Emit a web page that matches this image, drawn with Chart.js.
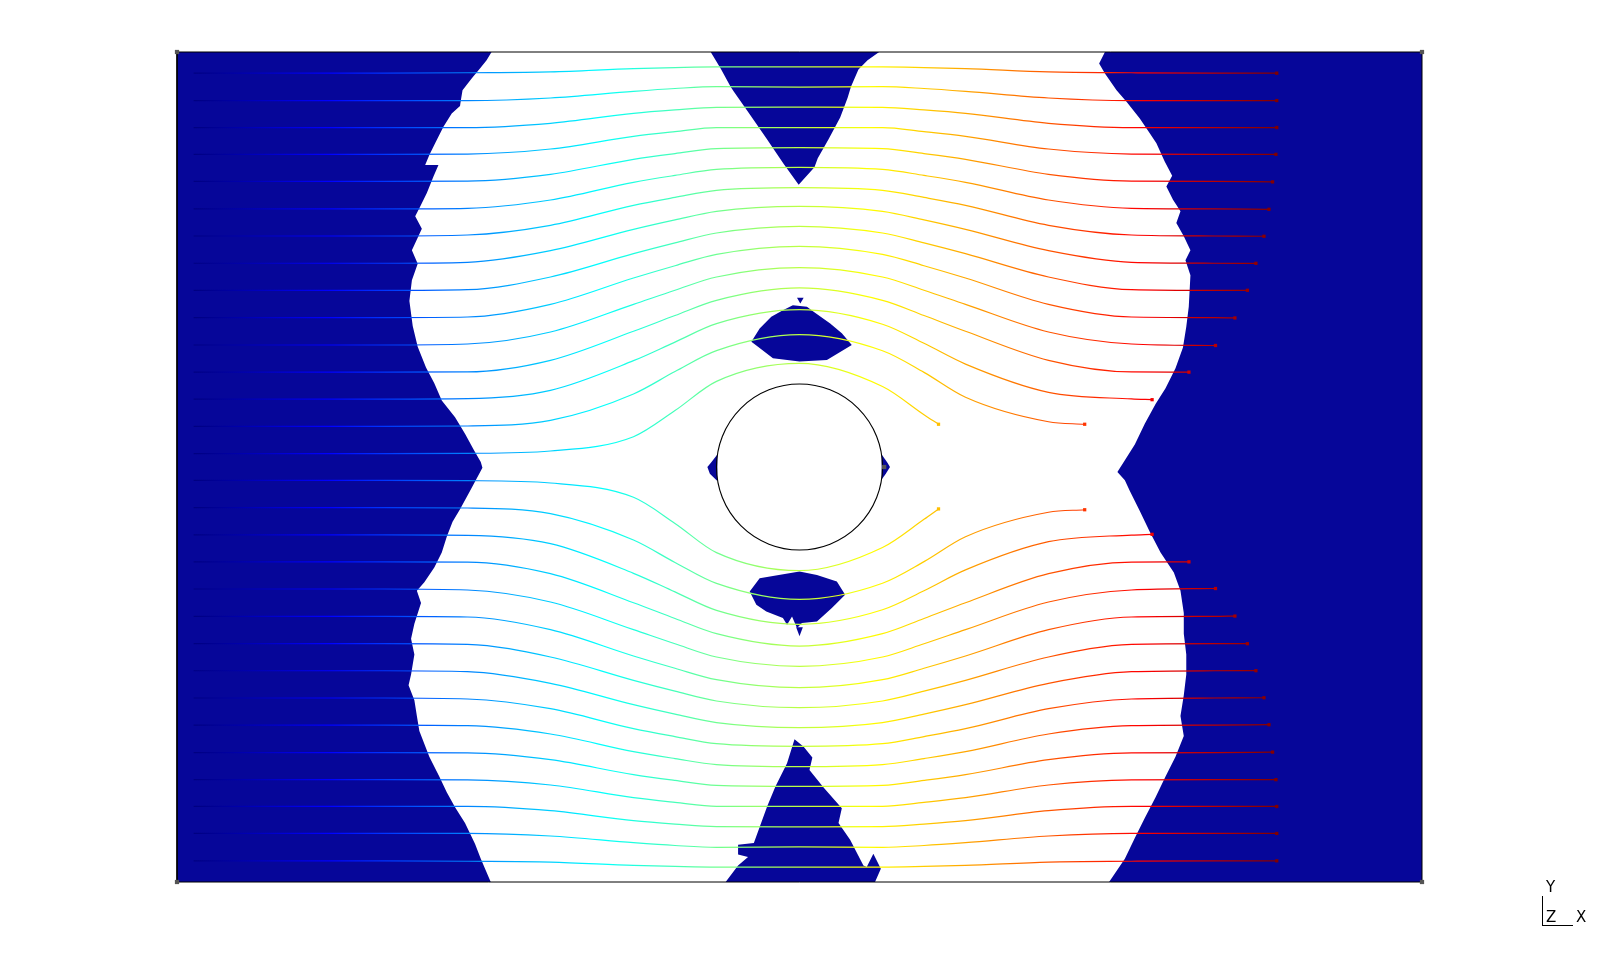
<!DOCTYPE html>
<html>
<head>
<meta charset="utf-8">
<script src="https://cdn.jsdelivr.net/npm/chart.js@4.4.1/dist/chart.umd.min.js"></script>
<style>
html,body{margin:0;padding:0;background:#fff;}
#wrap{position:relative;width:1603px;height:966px;}
.t{position:absolute;font-family:"DejaVu Sans",sans-serif;font-size:15px;line-height:15px;color:#000;}
.ln{position:absolute;background:#000;}
</style>
</head>
<body>
<div id="wrap">
<canvas id="c" width="1603" height="966"></canvas>
<div class="t" style="left:1546px;top:880px;">Y</div>
<div class="t" style="left:1546px;top:910px;">Z</div>
<div class="t" style="left:1576px;top:910px;">X</div>
<div class="ln" style="left:1542px;top:896px;width:1px;height:30px;"></div>
<div class="ln" style="left:1542px;top:925px;width:31px;height:1px;"></div>
</div>
<script>
// ---------- domain ----------
const xRange = [-7.5, 7.5];
const yRange = [-5, 5];
const colorRange = [-7.3, 5.75];

// ---------- streamlines: y value at each gridX (null = beyond the end) ----------
const gridX = [-7.3, -5, -4, -3, -2, -1.5, -1, 0, 1, 1.5, 2, 3, 4, 5];

const s01 = [4.745,4.745,4.75,4.76,4.80,4.812,4.82,4.82,4.82,4.812,4.80,4.76,4.75,4.745];
const s02 = [4.415,4.415,4.415,4.446,4.526,4.56,4.582,4.578,4.582,4.56,4.526,4.446,4.415,4.415];
const s03 = [4.09,4.09,4.09,4.141,4.261,4.302,4.333,4.337,4.333,4.302,4.261,4.141,4.09,4.09];
const s04 = [3.767,3.767,3.77,3.831,3.984,4.04,4.088,4.088,4.088,4.04,3.984,3.831,3.77,3.767];
const s05 = [3.442,3.442,3.445,3.526,3.707,3.776,3.835,3.847,3.835,3.776,3.707,3.526,3.445,3.442];
const s06 = [3.11,3.11,3.117,3.217,3.43,3.513,3.586,3.611,3.586,3.513,3.43,3.217,3.117,3.11];
const s07 = [2.783,2.783,2.795,2.912,3.153,3.248,3.333,3.365,3.333,3.248,3.153,2.912,2.795,2.783];
const s08 = [2.455,2.455,2.466,2.606,2.863,2.977,3.08,3.141,3.08,2.977,2.863,2.606,2.466,2.455];
const s09 = [2.127,2.127,2.136,2.289,2.57,2.70,2.819,2.9,2.819,2.70,2.57,2.289,2.136,2.127];
const s10 = [1.8,1.8,1.807,1.96,2.277,2.425,2.562,2.659,2.562,2.425,2.277,1.96,1.807,1.8];
const s11 = [1.47,1.47,1.482,1.627,1.96,2.13,2.289,2.401,2.289,2.13,1.96,1.627,1.482,null];
const s12 = [1.143,1.143,1.145,1.285,1.635,1.825,2.008,2.157,2.008,1.825,1.635,1.285,1.145,null];
const s13 = [0.818,0.818,0.823,0.924,1.281,1.505,1.727,1.895,1.72,1.49,1.24,0.90,0.82,null];
const s14 = [0.49,0.49,0.494,0.562,0.88,1.15,1.402,1.594,1.40,1.14,0.84,0.545,null,null];
const s15 = [0.162,0.162,0.165,0.193,0.365,0.68,1.032,1.249,0.97,0.63,null,null,null,null];
const s16 = [-0.162,-0.162,-0.165,-0.193,-0.365,-0.68,-1.032,-1.249,-0.97,-0.63,null,null,null,null];
const s17 = [-0.49,-0.49,-0.494,-0.562,-0.88,-1.15,-1.402,-1.594,-1.40,-1.14,-0.84,-0.545,null,null];
const s18 = [-0.818,-0.818,-0.823,-0.924,-1.281,-1.505,-1.727,-1.895,-1.72,-1.49,-1.24,-0.90,-0.82,null];
const s19 = [-1.143,-1.143,-1.145,-1.285,-1.635,-1.825,-2.008,-2.157,-2.008,-1.825,-1.635,-1.285,-1.145,null];
const s20 = [-1.47,-1.47,-1.482,-1.627,-1.96,-2.13,-2.289,-2.401,-2.289,-2.13,-1.96,-1.627,-1.482,null];
const s21 = [-1.8,-1.8,-1.807,-1.96,-2.277,-2.425,-2.562,-2.659,-2.562,-2.425,-2.277,-1.96,-1.807,-1.8];
const s22 = [-2.127,-2.127,-2.136,-2.289,-2.57,-2.70,-2.819,-2.9,-2.819,-2.70,-2.57,-2.289,-2.136,-2.127];
const s23 = [-2.455,-2.455,-2.466,-2.606,-2.863,-2.977,-3.08,-3.141,-3.08,-2.977,-2.863,-2.606,-2.466,-2.455];
const s24 = [-2.783,-2.783,-2.795,-2.912,-3.153,-3.248,-3.333,-3.365,-3.333,-3.248,-3.153,-2.912,-2.795,-2.783];
const s25 = [-3.11,-3.11,-3.117,-3.217,-3.43,-3.513,-3.586,-3.611,-3.586,-3.513,-3.43,-3.217,-3.117,-3.11];
const s26 = [-3.442,-3.442,-3.445,-3.526,-3.707,-3.776,-3.835,-3.847,-3.835,-3.776,-3.707,-3.526,-3.445,-3.442];
const s27 = [-3.767,-3.767,-3.77,-3.831,-3.984,-4.04,-4.088,-4.088,-4.088,-4.04,-3.984,-3.831,-3.77,-3.767];
const s28 = [-4.09,-4.09,-4.09,-4.141,-4.261,-4.302,-4.333,-4.337,-4.333,-4.302,-4.261,-4.141,-4.09,-4.09];
const s29 = [-4.415,-4.415,-4.415,-4.446,-4.526,-4.56,-4.582,-4.578,-4.582,-4.56,-4.526,-4.446,-4.415,-4.415];
const s30 = [-4.745,-4.745,-4.75,-4.76,-4.80,-4.812,-4.82,-4.82,-4.82,-4.812,-4.80,-4.76,-4.75,-4.745];
const streamY = [s01,s02,s03,s04,s05,s06,s07,s08,s09,s10,s11,s12,s13,s14,s15,
                 s16,s17,s18,s19,s20,s21,s22,s23,s24,s25,s26,s27,s28,s29,s30];

// streamline end points
const endX = [5.75,5.75,5.75,5.74,5.70,5.656,5.596,5.499,5.396,5.246,5.012,4.692,4.248,3.436,1.675,
              1.675,3.436,4.248,4.692,5.012,5.246,5.396,5.499,5.596,5.656,5.70,5.74,5.75,5.75,5.75];
const endY = [4.745,4.415,4.09,3.767,3.435,3.105,2.78,2.454,2.129,1.796,1.464,1.143,0.811,0.515,0.515,
              -0.505,-0.515,-0.811,-1.143,-1.464,-1.796,-2.129,-2.454,-2.78,-3.105,-3.435,-3.767,-4.09,-4.415,-4.745];

// ---------- dark-blue regions (polygon outlines, x/y) ----------
const leftRegionX = [-7.5,-3.71,-3.77,-3.85,-3.95,-4.06,-4.08,-4.09,-4.19,-4.29,-4.39,-4.46,-4.51,-4.35,-4.41,-4.49,-4.57,-4.63,-4.55,-4.61,-4.67,-4.60,-4.67,-4.70,-4.66,-4.60,-4.50,-4.40,-4.31,-4.15,-4.03,-3.92,-3.84,-3.82,-3.97,-4.09,-4.18,-4.25,-4.31,-4.40,-4.52,-4.61,-4.56,-4.64,-4.68,-4.64,-4.68,-4.71,-4.64,-4.61,-4.58,-4.46,-4.34,-4.25,-4.15,-4.03,-3.91,-3.84,-3.72,-7.5];
const leftRegionY = [5,5,4.90,4.80,4.68,4.54,4.42,4.35,4.26,4.10,3.90,3.76,3.64,3.64,3.50,3.30,3.14,3.02,2.87,2.74,2.61,2.45,2.25,2.0,1.70,1.45,1.20,1.01,0.80,0.60,0.40,0.20,0.06,-0.01,-0.29,-0.51,-0.66,-0.84,-1.03,-1.21,-1.39,-1.49,-1.64,-1.89,-2.07,-2.26,-2.50,-2.63,-2.81,-3.00,-3.18,-3.49,-3.73,-3.92,-4.10,-4.29,-4.54,-4.72,-5,-5];

const rightRegionX = [7.5,3.68,3.61,3.68,3.82,3.94,4.10,4.22,4.30,4.40,4.49,4.42,4.50,4.59,4.54,4.63,4.71,4.65,4.71,4.69,4.66,4.62,4.53,4.41,4.29,4.16,4.04,3.92,3.83,3.92,3.98,4.10,4.22,4.35,4.51,4.59,4.63,4.63,4.66,4.66,4.63,4.59,4.63,4.53,4.41,4.29,4.16,4.04,3.92,3.73,7.5];
const rightRegionY = [5,5,4.86,4.74,4.54,4.40,4.20,4.02,3.90,3.68,3.51,3.38,3.22,3.08,2.94,2.78,2.61,2.49,2.31,1.93,1.69,1.44,1.19,0.95,0.76,0.52,0.27,0.08,-0.06,-0.16,-0.29,-0.53,-0.78,-1.03,-1.27,-1.49,-1.76,-2.01,-2.26,-2.50,-2.75,-3.00,-3.24,-3.49,-3.73,-3.98,-4.23,-4.47,-4.72,-5,-5];

const topWedgeX = [-1.07,-0.95,-0.83,-0.79,-0.60,-0.40,-0.19,-0.01,0.18,0.22,0.35,0.49,0.58,0.62,0.71,0.82,0.96];
const topWedgeY = [5,4.80,4.58,4.52,4.25,3.96,3.65,3.40,3.61,3.72,3.95,4.21,4.45,4.58,4.79,4.90,5];

const bottomWedgeX = [-0.89,-0.74,-0.62,-0.74,-0.74,-0.55,-0.39,-0.29,-0.15,-0.06,0.05,0.155,0.12,0.29,0.51,0.47,0.61,0.77,0.81,0.89,0.98,0.91];
const bottomWedgeY = [-5,-4.80,-4.70,-4.67,-4.55,-4.53,-4.09,-3.85,-3.57,-3.28,-3.37,-3.50,-3.65,-3.86,-4.11,-4.29,-4.49,-4.80,-4.82,-4.66,-4.84,-5];

const topBlobX = [-0.08,-0.2,-0.34,-0.48,-0.58,-0.50,-0.32,0.0,0.33,0.63,0.51,0.37,0.17,0.09];
const topBlobY = [1.95,1.89,1.81,1.67,1.51,1.45,1.31,1.27,1.29,1.47,1.61,1.73,1.87,1.93];
const topSpikeX = [-0.03,0.05,0.01];
const topSpikeY = [2.04,2.04,1.97];

const bottomBlobX = [0.0,-0.48,-0.60,-0.52,-0.40,-0.2,-0.15,-0.09,-0.03,0.03,0.21,0.39,0.55,0.45,0.21];
const bottomBlobY = [-1.26,-1.34,-1.50,-1.66,-1.74,-1.82,-1.90,-1.80,-1.94,-1.88,-1.86,-1.70,-1.54,-1.38,-1.30];
const bottomSpikeX = [-0.04,0.04,0.0];
const bottomSpikeY = [-1.93,-1.93,-2.04];

const leftBitX = [-0.99,-1.06,-1.11,-1.08,-0.99];
const leftBitY = [0.15,0.06,0.0,-0.08,-0.17];
const rightBitX = [0.99,1.06,1.09,1.04,0.99];
const rightBitY = [0.15,0.05,0.0,-0.08,-0.15];

// domain frame and its corner markers, cylinder
const frameX = [-7.5,7.5,7.5,-7.5,-7.5];
const frameY = [-5,-5,5,5,-5];
const cornerX = [-7.5,7.5,7.5,-7.5,1.02];
const cornerY = [5,5,-5,-5,0];
const cylinderX = [0];
const cylinderY = [0];
const cylinderRadius = 1;

// ---------- styling ----------
const blue = '#060699';
const jetStops = [[0,[0,0,128]],[0.125,[0,0,255]],[0.375,[0,255,255]],[0.625,[255,255,0]],[0.875,[255,0,0]],[1,[128,0,0]]];

function jet(v){
  let t = (v - colorRange[0]) / (colorRange[1] - colorRange[0]);
  t = Math.max(0, Math.min(1, t));
  for (let i = 1; i < jetStops.length; i++){
    const [t1,c1] = jetStops[i], [t0,c0] = jetStops[i-1];
    if (t <= t1){
      const f = (t - t0) / (t1 - t0);
      const c = c0.map((a,k)=>Math.round(a + (c1[k]-a)*f));
      return 'rgb(' + c.join(',') + ')';
    }
  }
  return 'rgb(128,0,0)';
}
let gradCache = null;
function jetGradient(chart){
  if (!chart.chartArea) return '#00f';
  const xs = chart.scales.x;
  const x0 = xs.getPixelForValue(colorRange[0]), x1 = xs.getPixelForValue(colorRange[1]);
  if (gradCache && gradCache.x0 === x0 && gradCache.x1 === x1) return gradCache.g;
  const g = chart.ctx.createLinearGradient(x0, 0, x1, 0);
  jetStops.forEach(([t,c]) => g.addColorStop(t, 'rgb(' + c.join(',') + ')'));
  gradCache = {x0, x1, g};
  return g;
}

const zip = (xs, ys) => xs.map((x,i)=>({x, y: ys[i]}));

const datasets = [];
function region(xs, ys){
  datasets.push({
    data: zip(xs, ys), fill: 'shape', backgroundColor: blue, borderWidth: 0,
    borderColor: blue, pointRadius: 0, tension: 0, order: 30
  });
}
region(leftRegionX, leftRegionY);
region(rightRegionX, rightRegionY);
region(topWedgeX, topWedgeY);
region(bottomWedgeX, bottomWedgeY);
region(topBlobX, topBlobY);
region(topSpikeX, topSpikeY);
region(bottomBlobX, bottomBlobY);
region(bottomSpikeX, bottomSpikeY);
region(leftBitX, leftBitY);
region(rightBitX, rightBitY);

datasets.push({
  data: zip(frameX, frameY), borderColor: '#000', borderWidth: 1, pointRadius: 0,
  fill: false, tension: 0, order: 20, clip: 3
});

streamY.forEach((ys, i) => {
  const pts = [];
  gridX.forEach((x, j) => { if (ys[j] !== null && x < endX[i]) pts.push({x, y: ys[j]}); });
  pts.push({x: endX[i], y: endY[i]});
  datasets.push({
    data: pts, borderColor: (c) => jetGradient(c.chart), borderWidth: 1.2,
    pointRadius: 0, fill: false, cubicInterpolationMode: 'monotone', order: 10
  });
});

datasets.push({
  data: zip(cylinderX, cylinderY), showLine: false,
  pointRadius: (c) => { const s = c.chart.scales.x; return s ? Math.abs(s.getPixelForValue(cylinderRadius) - s.getPixelForValue(0)) : 0; },
  pointBackgroundColor: 'rgba(0,0,0,0)', pointBorderColor: '#000', pointBorderWidth: 1.1,
  order: 5
});

datasets.push({
  data: zip(endX, endY), showLine: false, pointStyle: 'rect', pointRadius: 2.3, pointBorderWidth: 0,
  pointBackgroundColor: endX.map(jet), order: 2
});

datasets.push({
  data: zip(cornerX, cornerY), showLine: false, pointStyle: 'rect', pointRadius: 3, pointBorderWidth: 0,
  pointBackgroundColor: '#555', order: 1, clip: 5
});

new Chart(document.getElementById('c'), {
  type: 'line',
  data: { datasets },
  options: {
    responsive: false, animation: false, devicePixelRatio: 1, events: [],
    layout: { padding: { left: 177, right: 181, top: 52, bottom: 84 } },
    scales: {
      x: { type: 'linear', min: xRange[0], max: xRange[1], display: false },
      y: { type: 'linear', min: yRange[0], max: yRange[1], display: false }
    },
    plugins: { legend: { display: false }, tooltip: { enabled: false } }
  }
});
</script>
</body>
</html>
